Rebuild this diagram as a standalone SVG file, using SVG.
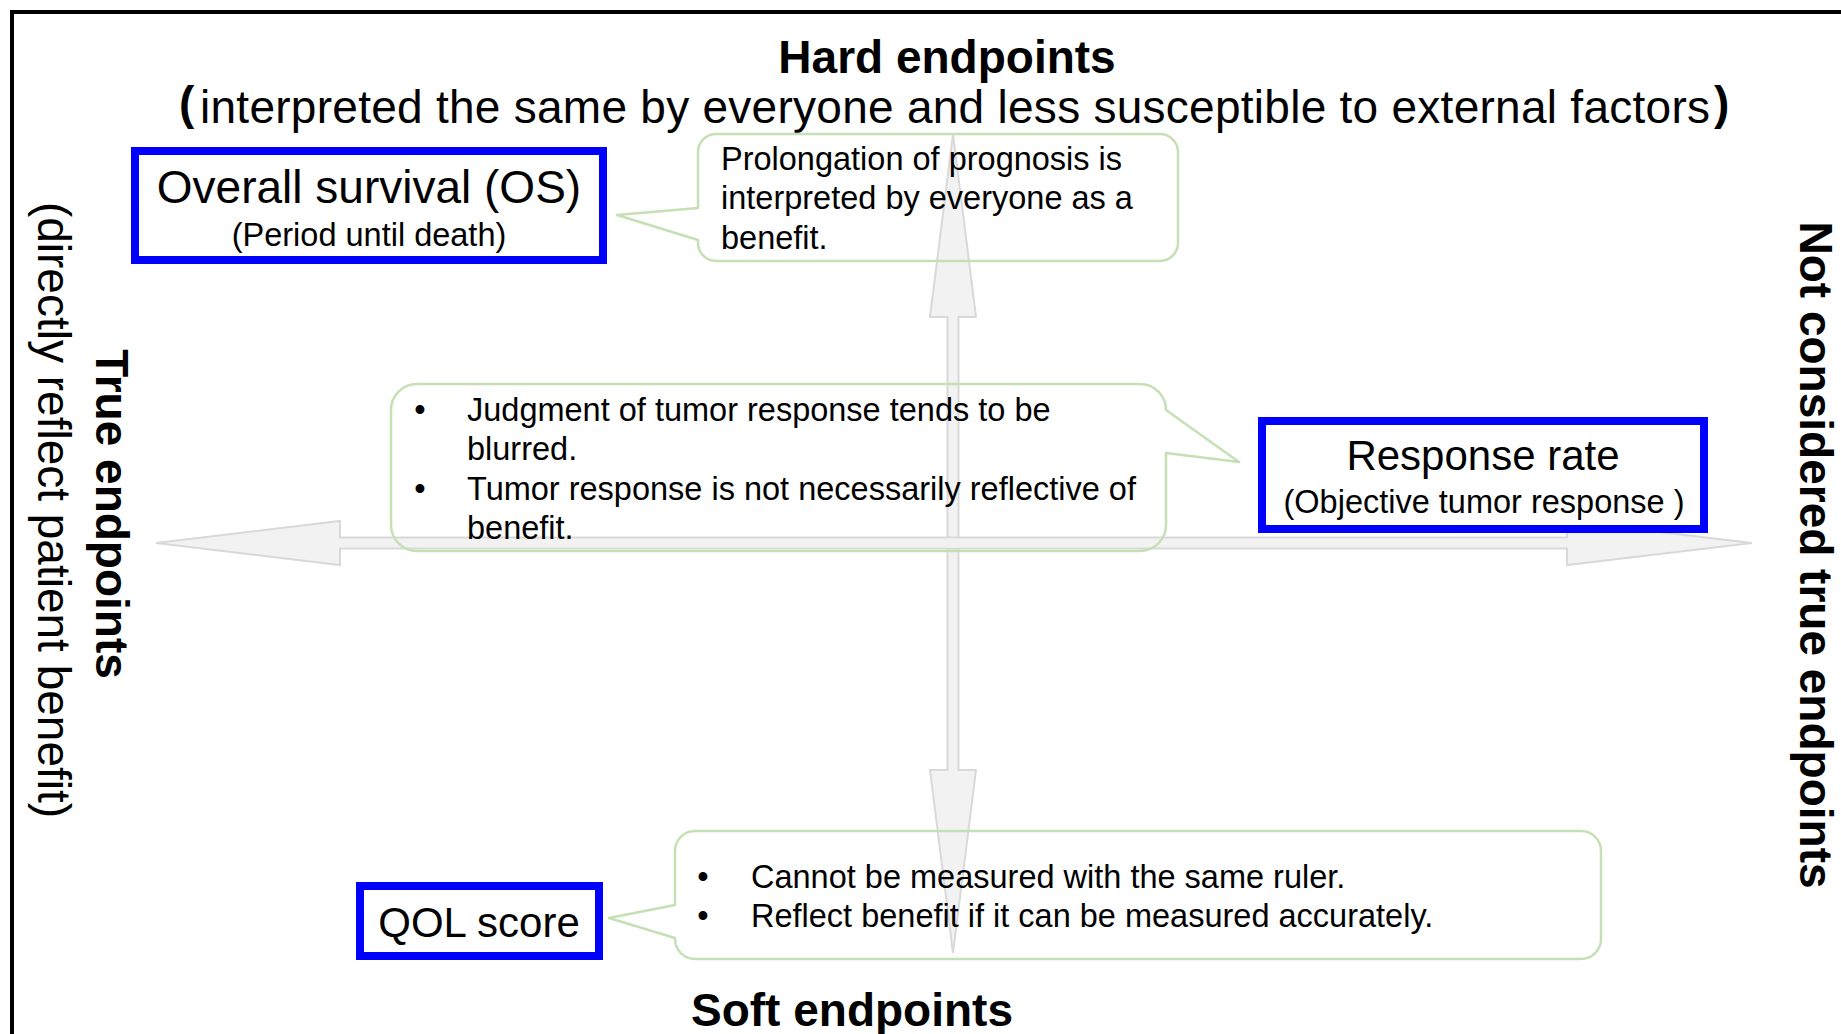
<svg xmlns="http://www.w3.org/2000/svg" width="1841" height="1034" viewBox="0 0 1841 1034">
  <style>
    text { font-family: "Liberation Sans", Arial, "Noto Sans CJK JP", sans-serif; fill: #000; }
    .head { font-size: 46px; font-weight: bold; }
    .sub { font-size: 46px; }
    .mid { text-anchor: middle; }
    .paren { font-weight: bold; }
    .box { fill: #fff; stroke: #0000ff; stroke-width: 8; }
    .big { font-size: 46px; }
    .mdm { font-size: 42px; }
    .sml { font-size: 32.5px; }
    .callout { fill: none; stroke: #c5e0b4; stroke-width: 2.5; stroke-linejoin: round; }
    .axis { fill: #f2f2f2; stroke: #d9d9d9; stroke-width: 2; stroke-linejoin: miter; }
  </style>

  <rect width="1841" height="1034" fill="#fff"/>
  <!-- outer frame (only top and left edges fall inside the canvas) -->
  <rect x="12" y="12" width="1900" height="1100" fill="none" stroke="#000" stroke-width="4"/>

  <!-- axis arrows -->
  <g id="connectors">
    <path class="axis" d="M953,134 L976,317 L958.5,317 L958.5,770 L976,770 L953,953 L930,770 L947.5,770 L947.5,317 L930,317 Z"/>
    <path class="axis" d="M156,543 L340,521 L340,537.5 L1567,537.5 L1567,521 L1752,543 L1567,565 L1567,548.5 L340,548.5 L340,565 Z"/>
    <rect x="946.5" y="538.5" width="13" height="9" fill="#f2f2f2"/>
  </g>

  <!-- axis labels -->
  <g id="label-hard">
    <text class="head mid" x="947" y="73">Hard endpoints</text>
    <text class="sub" y="123"><tspan class="paren" x="179" y="119">(</tspan><tspan x="200" y="123" textLength="1510" lengthAdjust="spacing">interpreted the same by everyone and less susceptible to external factors</tspan><tspan class="paren" x="1714" y="119">)</tspan></text>
  </g>
  <g id="label-soft">
    <text class="head mid" x="852" y="1026">Soft endpoints</text>
  </g>
  <g id="label-true">
    <text class="head mid" transform="translate(96,514) rotate(90)">True endpoints</text>
    <text class="sub mid" transform="translate(38,510) rotate(90)">(directly reflect patient benefit)</text>
  </g>
  <g id="label-not-true">
    <text class="head mid" transform="translate(1800,555) rotate(90)">Not considered true endpoints</text>
  </g>

  <!-- endpoint boxes -->
  <g id="node-os">
    <rect class="box" x="135" y="151" width="468" height="109"/>
    <text class="big mid" x="369" y="203">Overall survival (OS)</text>
    <text class="sml mid" x="369" y="246">(Period until death)</text>
  </g>
  <g id="node-response">
    <rect class="box" x="1262" y="421" width="442" height="108"/>
    <text class="mdm mid" x="1483" y="470">Response rate</text>
    <text class="sml mid" x="1484" y="513">(Objective tumor response )</text>
  </g>
  <g id="node-qol">
    <rect class="box" x="360" y="886" width="239" height="70"/>
    <text class="mdm mid" x="479" y="937">QOL score</text>
  </g>

  <!-- speech-bubble notes -->
  <g id="note-os">
    <path class="callout" d="M716,134 H1160 A18,18 0 0 1 1178,152 V243 A18,18 0 0 1 1160,261 H716 A18,18 0 0 1 698,243 V240 L617,215 L698,208 V152 A18,18 0 0 1 716,134 Z"/>
    <text class="sml" x="721" y="170">Prolongation of prognosis is</text>
    <text class="sml" x="721" y="209">interpreted by everyone as a</text>
    <text class="sml" x="721" y="249">benefit.</text>
  </g>
  <g id="note-response">
    <path class="callout" d="M417,384 H1140 A26,26 0 0 1 1166,410 L1239,462 L1166,453 V525 A26,26 0 0 1 1140,551 H417 A26,26 0 0 1 391,525 V410 A26,26 0 0 1 417,384 Z"/>
    <text class="sml mid" x="420" y="421">•</text>
    <text class="sml" x="467" y="421">Judgment of tumor response tends to be</text>
    <text class="sml" x="467" y="460">blurred.</text>
    <text class="sml mid" x="420" y="500">•</text>
    <text class="sml" x="467" y="500">Tumor response is not necessarily reflective of</text>
    <text class="sml" x="467" y="539">benefit.</text>
  </g>
  <g id="note-qol">
    <path class="callout" d="M695,831 H1581 A20,20 0 0 1 1601,851 V939 A20,20 0 0 1 1581,959 H695 A20,20 0 0 1 675,939 V938 L609,918 L675,905 V851 A20,20 0 0 1 695,831 Z"/>
    <text class="sml mid" x="703" y="888">•</text>
    <text class="sml" x="751" y="888">Cannot be measured with the same ruler.</text>
    <text class="sml mid" x="703" y="927">•</text>
    <text class="sml" x="751" y="927">Reflect benefit if it can be measured accurately.</text>
  </g>
</svg>
